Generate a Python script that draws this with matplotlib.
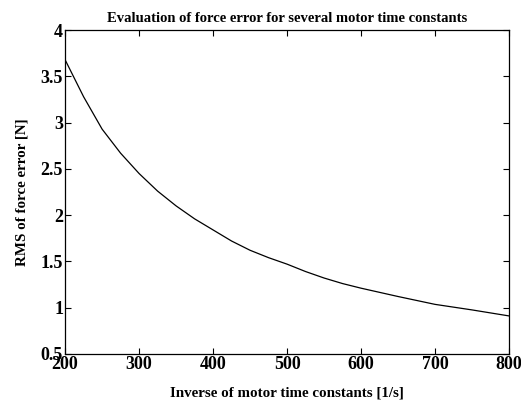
import matplotlib
matplotlib.use('Agg')
import matplotlib.pyplot as plt

# inverse time constant [1/s] vs RMS force error [N]
inv_tau = [200, 225, 250, 275, 300, 325, 350, 375, 400, 425, 450, 475, 500,
           525, 550, 575, 600, 650, 700, 750, 800]
rms_err = [3.68, 3.28, 2.93, 2.67, 2.45, 2.26, 2.10, 1.96, 1.84, 1.72, 1.62,
           1.54, 1.47, 1.39, 1.32, 1.26, 1.21, 1.12, 1.035, 0.975, 0.91]

x_ticks = [200, 300, 400, 500, 600, 700, 800]
y_ticks = [0.5, 1, 1.5, 2, 2.5, 3, 3.5, 4]
y_labels = ['0.5', '1', '1.5', '2', '2.5', '3', '3.5', '4']

plt.rcParams['font.family'] = ['Liberation Serif', 'DejaVu Serif']

fig = plt.figure(figsize=(5.21, 4.03), dpi=100)
ax = fig.add_axes([0.125, 0.122, 0.852, 0.803])

ax.plot(inv_tau, rms_err, color='black', lw=0.9)

ax.set_xlim(200, 800)
ax.set_ylim(0.5, 4)
ax.set_xticks(x_ticks)
ax.set_yticks(y_ticks)
ax.set_yticklabels(y_labels)
ax.tick_params(direction='in', length=4, width=0.8, top=True, right=True,
               labelsize=13, pad=1.5)
for lab in ax.get_xticklabels() + ax.get_yticklabels():
    lab.set_fontweight('bold')
for sp in ax.spines.values():
    sp.set_linewidth(0.9)

ax.set_title('Evaluation of force error for several motor time constants',
             fontsize=10.5, fontweight='bold', pad=6)
ax.set_xlabel('Inverse of motor time constants [1/s]', fontsize=10.8,
              fontweight='bold', labelpad=10)
ax.set_ylabel('RMS of force error [N]', fontsize=10.8, fontweight='bold',
              labelpad=9)

fig.savefig('out.png', dpi=100)
